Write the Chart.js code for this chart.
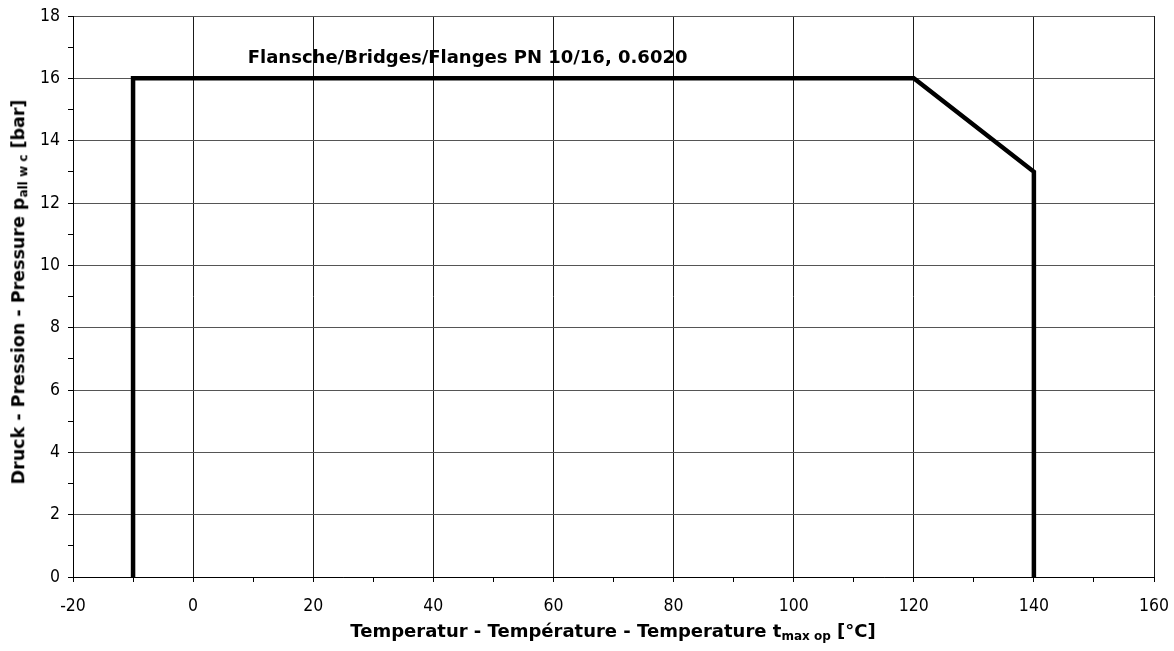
<!DOCTYPE html>
<html>
<head>
<meta charset="utf-8">
<script src="https://cdn.jsdelivr.net/npm/chart.js@4/dist/chart.umd.min.js"></script>
<style>
  html, body { margin: 0; padding: 0; background: #fff; }
  #wrap { position: relative; width: 1174px; height: 651px; overflow: hidden; background: #fff; }
  canvas { position: absolute; left: 0; top: 0; }
  .title { position: absolute; white-space: nowrap; font-family: "DejaVu Sans", sans-serif; font-weight: bold; color: #000; line-height: 1; }
  .title sub { font-size: 12px; vertical-align: -3px; line-height: 0; }
  #xTitle { font-size: 18px; left: 613px; top: 631px; transform: translate(-50%, -50%); }
  #yTitle { font-size: 17.5px; left: 19px; top: 292px; transform: translate(-50%, -50%) rotate(-90deg); }
</style>
</head>
<body>
<div id="wrap">
  <canvas id="c" width="1174" height="651"></canvas>
  <div class="title" id="xTitle">Temperatur - Température - Temperature t<sub>max op</sub> [°C]</div>
  <div class="title" id="yTitle">Druck - Pression - Pressure p<sub>all w c</sub> [bar]</div>
</div>
<script>
// ---- data ----
const tempC = [-10, -10, 120, 140, 140];
const pressureBar = [0, 16, 16, 13, 0];
const xTickLabels = [-20, 0, 20, 40, 60, 80, 100, 120, 140, 160];
const yTickLabels = [0, 2, 4, 6, 8, 10, 12, 14, 16, 18];
const seriesLabel = 'Flansche/Bridges/Flanges PN 10/16, 0.6020';

// ---- layout / style (kept separate from data) ----
const labelAnchor = { x: 9.1, y: 16.65 };
const TICK_FONT = '"DejaVu Sans Condensed", "DejaVu Sans", sans-serif';
const LABEL_FONT = '"DejaVu Sans", sans-serif';

const points = tempC.map((t, i) => ({ x: t, y: pressureBar[i] }));

const seriesLabelPlugin = {
  id: 'seriesLabel',
  afterDatasetsDraw(chart) {
    const { ctx, scales } = chart;
    ctx.save();
    ctx.font = 'bold 18px ' + LABEL_FONT;
    ctx.fillStyle = '#000';
    ctx.textAlign = 'left';
    ctx.textBaseline = 'middle';
    ctx.fillText(seriesLabel, scales.x.getPixelForValue(labelAnchor.x), scales.y.getPixelForValue(labelAnchor.y));
    ctx.restore();
  }
};

const bgPlugin = {
  id: 'bg',
  beforeDraw(chart) {
    const c = chart.ctx;
    c.save(); c.fillStyle = '#fff'; c.fillRect(0, 0, chart.width, chart.height); c.restore();
  }
};

new Chart(document.getElementById('c'), {
  type: 'scatter',
  data: {
    datasets: [{
      label: seriesLabel,
      data: points,
      showLine: true,
      borderColor: '#000',
      backgroundColor: '#000',
      borderWidth: 4.5,
      borderJoinStyle: 'miter',
      borderCapStyle: 'butt',
      pointRadius: 0,
      pointHoverRadius: 0,
      tension: 0
    }]
  },
  options: {
    responsive: false,
    devicePixelRatio: 1,
    animation: false,
    events: [],
    layout: { padding: { left: 0, top: 16, right: 20, bottom: 0 } },
    plugins: { legend: { display: false }, tooltip: { enabled: false } },
    scales: {
      x: {
        type: 'linear',
        min: xTickLabels[0],
        max: xTickLabels[xTickLabels.length - 1],
        afterFit(scale) { scale.height = 74; scale.paddingLeft = 0; scale.paddingRight = 0; },
        ticks: {
          stepSize: 10,
          autoSkip: false,
          maxRotation: 0,
          padding: 14,
          color: '#000',
          font: { family: TICK_FONT, size: 17.5 },
          callback: v => xTickLabels.includes(v) ? String(v) : ''
        },
        grid: {
          color: ctx => (ctx.tick && xTickLabels.includes(ctx.tick.value)) ? '#1a1a1a' : 'rgba(0,0,0,0)',
          tickColor: '#000',
          tickLength: 5,
          lineWidth: 1,
          drawTicks: true
        },
        border: { display: true, color: '#000', width: 1 }
      },
      y: {
        type: 'linear',
        min: yTickLabels[0],
        max: yTickLabels[yTickLabels.length - 1],
        afterFit(scale) { scale.width = 73; scale.paddingTop = 0; scale.paddingBottom = 0; },
        ticks: {
          stepSize: 1,
          autoSkip: false,
          padding: 8,
          color: '#000',
          font: { family: TICK_FONT, size: 17.5 },
          callback: v => yTickLabels.includes(v) ? String(v) : ''
        },
        grid: {
          color: ctx => (ctx.tick && yTickLabels.includes(ctx.tick.value)) ? '#555' : 'rgba(0,0,0,0)',
          tickColor: '#000',
          tickLength: 5,
          lineWidth: 1,
          drawTicks: true
        },
        border: { display: true, color: '#000', width: 1 }
      }
    }
  },
  plugins: [bgPlugin, seriesLabelPlugin]
});
</script>
</body>
</html>
